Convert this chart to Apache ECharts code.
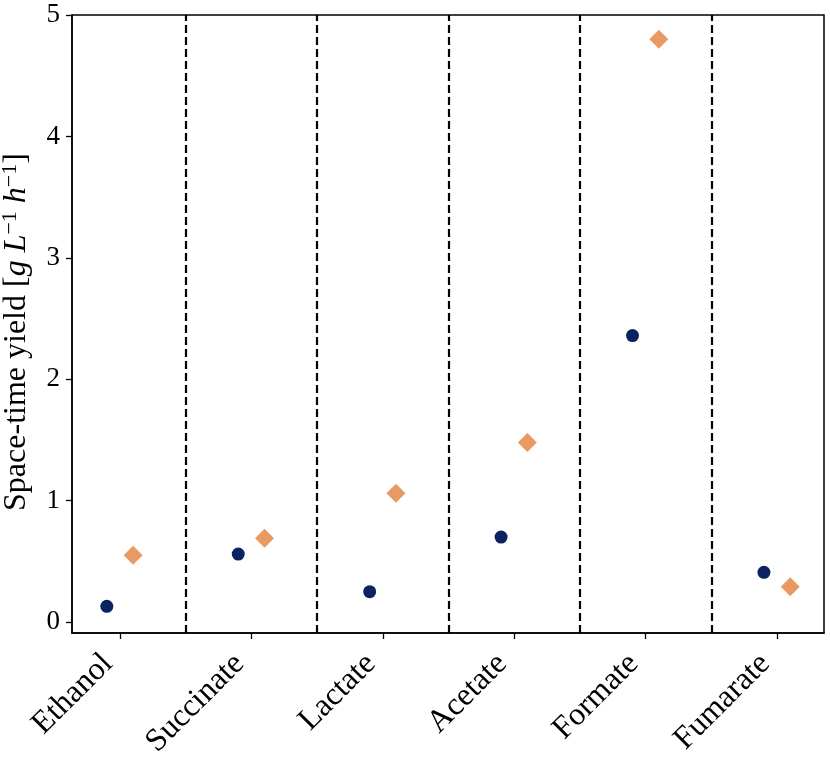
<!DOCTYPE html>
<html>
<head>
<meta charset="utf-8">
<script src="https://cdn.jsdelivr.net/npm/echarts@6/dist/echarts.min.js"></script>
<style>
  html, body { margin: 0; padding: 0; background: #fff; }
  #chart { width: 830px; height: 761px; }
</style>
</head>
<body>
<div id="chart"></div>
<script>
var chart = echarts.init(document.getElementById('chart'));

// products on the x axis
var categories = ['Ethanol', 'Succinate', 'Lactate', 'Acetate', 'Formate', 'Fumarate'];
// space-time yield, first set (circles) and second set (diamonds)
var yieldCircle = [0.13, 0.56, 0.25, 0.70, 2.36, 0.41];
var yieldDiamond = [0.55, 0.69, 1.06, 1.48, 4.80, 0.29];
var yTicks = [0, 1, 2, 3, 4, 5];
var xTicks = [0, 1, 2, 3, 4, 5];
var separators = [0.5, 1.5, 2.5, 3.5, 4.5];

var font = 'Liberation Serif';

// points are shifted a little left/right of the category tick
var circleData = yieldCircle.map(function (v, i) { return [i - 0.1, v]; });
var diamondData = yieldDiamond.map(function (v, i) { return [i + 0.1, v]; });

chart.setOption({
    backgroundColor: '#fff',
    animation: false,
    grid: {
        left: 72,
        right: 6,
        top: 15,
        bottom: 128,
        containLabel: false,
        outerBoundsMode: 'none',
        show: true,
        borderColor: '#000',
        borderWidth: 1.5,
        backgroundColor: 'transparent'
    },
    xAxis: {
        type: 'value',
        min: -0.365,
        max: 5.357,
        splitLine: { show: false },
        axisLine: { show: true, onZero: false, lineStyle: { color: '#000', width: 1.5 } },
        axisTick: {
            show: true, length: 6, customValues: xTicks,
            lineStyle: { color: '#000', width: 1.3 }
        },
        axisLabel: {
            customValues: xTicks,
            rotate: 45,
            margin: 14,
            padding: [0, 17, 0, 0],
            color: '#000',
            fontFamily: font,
            fontSize: 32,
            formatter: function (v) { return categories[Math.round(v)]; }
        }
    },
    yAxis: {
        type: 'value',
        min: -0.09,
        max: 5,
        name: '{n|Space-time yield [}{i|g L}{s|−1}{i| h}{s|−1}{n|]}',
        nameLocation: 'middle',
        nameGap: 37,
        nameTextStyle: {
            color: '#000',
            fontFamily: font,
            fontSize: 32,
            padding: [0, 16, 0, 0],
            rich: {
                n: { fontFamily: font, fontSize: 32, color: '#000' },
                i: { fontFamily: font, fontSize: 32, fontStyle: 'italic', color: '#000' },
                s: { fontFamily: font, fontSize: 22, color: '#000', verticalAlign: 'top', padding: [0, 0, 14, 0] }
            }
        },
        splitLine: { show: false },
        axisLine: { show: true, onZero: false, lineStyle: { color: '#000', width: 1.5 } },
        axisTick: {
            show: true, length: 6, customValues: yTicks,
            lineStyle: { color: '#000', width: 1.3 }
        },
        axisLabel: {
            customValues: yTicks,
            margin: 12,
            color: '#000',
            fontFamily: font,
            fontSize: 27
        }
    },
    series: [
        {
            type: 'scatter',
            data: circleData,
            symbol: 'circle',
            symbolSize: 13,
            itemStyle: { color: '#0b2461', opacity: 1 },
            z: 3,
            markLine: {
                silent: true,
                symbol: 'none',
                label: { show: false },
                lineStyle: { color: '#000', width: 2.2, type: [8, 4] },
                data: separators.map(function (s) { return { xAxis: s }; })
            }
        },
        {
            type: 'scatter',
            data: diamondData,
            symbol: 'diamond',
            symbolSize: 19,
            itemStyle: { color: '#e99a62', opacity: 1 },
            z: 3
        }
    ]
});

window.addEventListener('resize', function () {
    chart.resize();
});
</script>
</body>
</html>
